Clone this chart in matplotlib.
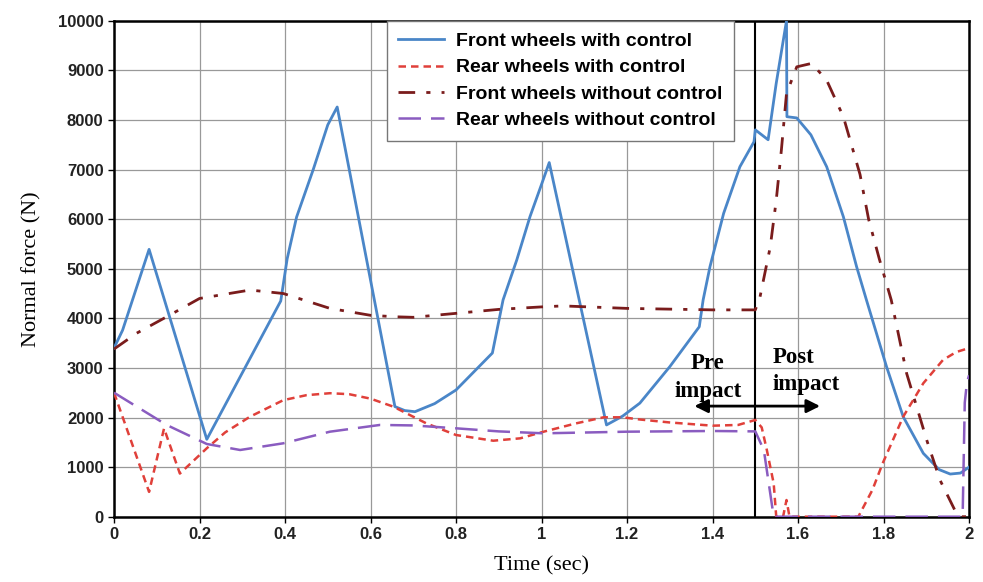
"""
Normal force on front/rear wheels, with and without control, pre/post impact.
"""
import matplotlib.pyplot as plt

# front wheels with control
t_fc = [0, 0.02, 0.082, 0.217, 0.30, 0.39, 0.405, 0.427, 0.466, 0.50, 0.522, 0.657, 0.68,
        0.704, 0.75, 0.80, 0.885, 0.91, 0.942, 0.973, 1.0, 1.018, 1.152, 1.19, 1.23, 1.30,
        1.369, 1.378, 1.394, 1.426, 1.464, 1.497, 1.50, 1.53, 1.549, 1.573, 1.574,
        1.597, 1.63, 1.667, 1.706, 1.737, 1.76, 1.807, 1.846, 1.893, 1.93, 1.956,
        1.98, 2.0]
f_fc = [3400, 3760, 5390, 1560, 2900, 4350, 5200, 6040, 7000, 7900, 8260, 2220, 2140,
        2117, 2280, 2555, 3300, 4370, 5175, 6050, 6700, 7140, 1850, 2030, 2290, 3025,
        3830, 4370, 5040, 6117, 7056, 7560, 7800, 7600, 8740, 10000, 8065,
        8040, 7700, 7056, 6048, 5040, 4370, 3025, 2016, 1278, 950, 860,
        880, 1000]

# rear wheels with control
t_rc = [0, 0.082, 0.117, 0.154, 0.217, 0.26, 0.318, 0.396, 0.45, 0.505, 0.55, 0.60,
        0.653, 0.731, 0.80, 0.887, 0.95, 1.005, 1.08, 1.145, 1.19, 1.23, 1.30, 1.40,
        1.46, 1.50, 1.515, 1.527, 1.543, 1.549, 1.565, 1.573, 1.58, 1.741, 1.774,
        1.798, 1.846, 1.893, 1.939, 1.97, 2.0]
f_rc = [2500, 500, 1780, 870, 1380, 1700, 2016, 2350, 2450, 2490, 2470, 2380,
        2220, 1880, 1647, 1532, 1580, 1714, 1880, 2004, 2004, 1960, 1900, 1835,
        1850, 1950, 1800, 1345, 673, 0, 0, 336, 0, 0, 540,
        1077, 2016, 2690, 3160, 3320, 3400]

# front wheels without control
t_fn = [0, 0.053, 0.123, 0.2, 0.318, 0.396, 0.505, 0.60, 0.661, 0.70, 0.80, 0.90,
        1.0, 1.05, 1.2, 1.4, 1.5, 1.511, 1.535, 1.549, 1.561, 1.573, 1.597, 1.632,
        1.667, 1.706, 1.745, 1.765, 1.79, 1.818, 1.854, 1.901, 1.932, 1.97, 1.978,
        2.0]
f_fn = [3380, 3700, 4030, 4400, 4570, 4500, 4200, 4060, 4030, 4020, 4100, 4180,
        4230, 4250, 4200, 4170, 4170, 4430, 5440, 6380, 7390, 8530, 9070, 9140,
        8800, 8065, 6900, 6000, 5200, 4370, 2890, 1546, 740, 75, 0,
        0]

# rear wheels without control
t_rn = [0, 0.123, 0.217, 0.295, 0.396, 0.505, 0.622, 0.70, 0.80, 0.90, 1.005, 1.2,
        1.4, 1.5, 1.52, 1.543, 1.985, 1.99, 1.995, 2.0]
f_rn = [2500, 1850, 1466, 1345, 1480, 1714, 1850, 1840, 1782, 1720, 1681, 1714,
        1728, 1720, 1345, 0, 0, 2300, 2700, 2850]

x_ticks = [0, 0.2, 0.4, 0.6, 0.8, 1.0, 1.2, 1.4, 1.6, 1.8, 2.0]
x_labels = ['0', '0.2', '0.4', '0.6', '0.8', '1', '1.2', '1.4', '1.6', '1.8', '2']
y_ticks = list(range(0, 10001, 1000))

fig = plt.figure(figsize=(9.83, 5.82), dpi=100)
ax = fig.add_axes([0.116, 0.1122, 0.8698, 0.8522])

ax.plot(t_fc, f_fc, color='#4a86c8', lw=2, label='Front wheels with control', zorder=4)
ax.plot(t_rc, f_rc, color='#e0403a', lw=1.8, dashes=(3, 2), label='Rear wheels with control', zorder=4)
ax.plot(t_fn, f_fn, color='#7a1c1c', lw=2, dashes=(6, 4, 1.5, 4), label='Front wheels without control', zorder=4)
ax.plot(t_rn, f_rn, color='#8a5cc0', lw=1.8, dashes=(9, 4), label='Rear wheels without control', zorder=4)

ax.axvline(1.5, color='black', lw=1.5, zorder=3)
ax.annotate('', xy=(1.351, 2230), xytext=(1.658, 2230),
            arrowprops=dict(arrowstyle='<|-|>', color='black', lw=2, mutation_scale=20), zorder=5)
ax.text(1.389, 2810, 'Pre\nimpact', ha='center', va='center', fontsize=16.5, fontweight='bold',
        family='Liberation Serif', linespacing=1.4, zorder=5)
ax.text(1.54, 2940, 'Post\nimpact', ha='left', va='center', fontsize=16.5, fontweight='bold',
        family='Liberation Serif', linespacing=1.4, multialignment='left', zorder=5)

ax.set_xlim(0, 2)
ax.set_ylim(0, 10000)
ax.set_xticks(x_ticks)
ax.set_xticklabels(x_labels)
ax.set_yticks(y_ticks)
ax.grid(True, color='#999999', lw=0.9)
ax.set_axisbelow(True)
for lab in ax.get_xticklabels() + ax.get_yticklabels():
    lab.set_fontweight('bold')
    lab.set_family('Liberation Sans')
    lab.set_fontsize(12)
    lab.set_color('#222222')
ax.tick_params(direction='out', length=4, width=1)
for s in ax.spines.values():
    s.set_linewidth(1.8)

ax.set_xlabel('Time (sec)', fontsize=16, family='Liberation Serif', labelpad=10)
ax.set_ylabel('Normal force (N)', fontsize=16, family='Liberation Serif', labelpad=12)

leg = ax.legend(loc='upper left', bbox_to_anchor=(0.319, 1.0), borderaxespad=0,
                fancybox=False, edgecolor='#777777', framealpha=1, handlelength=2.35,
                handletextpad=0.6, borderpad=0.6, labelspacing=0.45,
                prop={'family': 'Liberation Sans', 'weight': 'bold', 'size': 14})
leg.get_frame().set_linewidth(1)
leg.set_zorder(6)

fig.savefig('out.png', dpi=100)
